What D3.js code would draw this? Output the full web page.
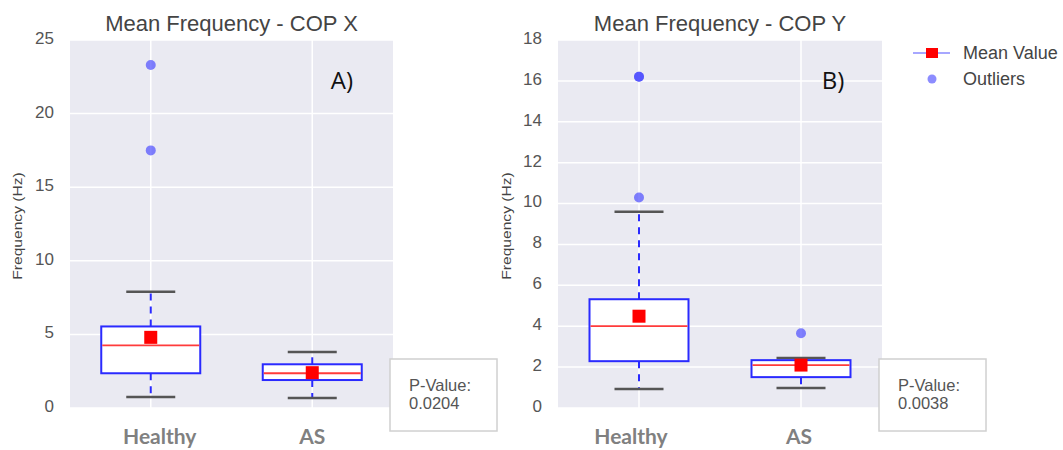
<!DOCTYPE html>
<html>
<head>
<meta charset="utf-8">
<script src="https://cdn.jsdelivr.net/npm/d3@7"></script>
<style>
  body { margin: 0; background: #fff; }
  svg { display: block; }
</style>
</head>
<body>
<svg width="1063" height="450"></svg>
<script>
// categories
var categories = ["Healthy", "AS"];

// COP X box stats (Hz)
var xQ1 = [2.36, 1.90];
var xMedian = [4.26, 2.36];
var xQ3 = [5.54, 2.97];
var xWhiskLo = [0.74, 0.68];
var xWhiskHi = [7.9, 3.8];
var xMean = [4.8, 2.4];
var xOutliers = [[23.3, 17.5], []];
var xTicks = [0, 5, 10, 15, 20, 25];

// COP Y box stats (Hz)
var yQ1 = [2.29, 1.51];
var yMedian = [4.0, 2.1];
var yQ3 = [5.32, 2.34];
var yWhiskLo = [0.93, 0.98];
var yWhiskHi = [9.6, 2.44];
var yMean = [4.49, 2.1];
var yOutliers = [[16.2, 16.2, 10.3], [3.66]];
var yTicks = [0, 2, 4, 6, 8, 10, 12, 14, 16, 18];

var titles = ["Mean Frequency - COP X", "Mean Frequency - COP Y"];
var panelTags = ["A)", "B)"];
var pValues = ["0.0204", "0.0038"];

var svg = d3.select("svg");

function buildStats(q1, med, q3, lo, hi, mean, outl) {
	return categories.map(function(c, i) {
		return { cat: c, q1: q1[i], med: med[i], q3: q3[i], lo: lo[i], hi: hi[i], mean: mean[i], out: outl[i] };
	});
}

var panels = [
	{ left: 70, right: 393, ticks: xTicks, stats: buildStats(xQ1, xMedian, xQ3, xWhiskLo, xWhiskHi, xMean, xOutliers),
	  title: titles[0], tag: panelTags[0], tagX: 342, yLabX: 18, p: pValues[0], pBox: [390, 359], labDx: [9, 0] },
	{ left: 558, right: 882, ticks: yTicks, stats: buildStats(yQ1, yMedian, yQ3, yWhiskLo, yWhiskHi, yMean, yOutliers),
	  title: titles[1], tag: panelTags[1], tagX: 833, yLabX: 507, p: pValues[1], pBox: [879, 359], labDx: [-8, -2] }
];

var plotTop = 40, plotBottom = 408;

panels.forEach(function(p) {
	var g = svg.append("g");
	var y = d3.scaleLinear().domain([0, d3.max(p.ticks)]).range([plotBottom, plotTop]);
	var x = d3.scalePoint().domain(categories).range([p.left, p.right]).padding(0.5);
	var bw = 99, cw = 49;

	// background
	g.append("rect")
		.attr("x", p.left).attr("y", plotTop)
		.attr("width", p.right - p.left).attr("height", plotBottom - plotTop)
		.attr("fill", "#eaeaf2");

	// grid
	g.append("g").selectAll("line")
		.data(p.ticks)
		.enter().append("line")
		.attr("x1", p.left).attr("x2", p.right)
		.attr("y1", function(d) { return y(d); })
		.attr("y2", function(d) { return y(d); })
		.attr("stroke", "#fff").attr("stroke-width", 1.5);
	g.append("g").selectAll("line")
		.data(categories)
		.enter().append("line")
		.attr("x1", function(d) { return x(d); })
		.attr("x2", function(d) { return x(d); })
		.attr("y1", plotTop).attr("y2", plotBottom)
		.attr("stroke", "#fff").attr("stroke-width", 1.5);

	// y axis
	var yAxis = g.append("g")
		.attr("transform", "translate(" + p.left + ",0)")
		.call(d3.axisLeft(y).tickValues(p.ticks).tickSize(0).tickPadding(16));
	yAxis.select(".domain").remove();
	yAxis.selectAll("text")
		.attr("dy", "0.2em")
		.style("font", "17px 'Liberation Sans', Arial, sans-serif")
		.attr("fill", "#555");

	// x labels
	g.append("g").selectAll("text")
		.data(categories)
		.enter().append("text")
		.attr("x", function(d, i) { return x(d) + p.labDx[i]; })
		.attr("y", 444)
		.attr("text-anchor", "middle")
		.style("font", "bold 21px Lato, 'Open Sans', sans-serif")
		.attr("fill", "#808080")
		.text(function(d) { return d; });

	// y label
	g.append("text")
		.attr("transform", "translate(" + (p.yLabX + 4) + ",226) rotate(-90) scale(1.3,1)")
		.attr("text-anchor", "middle")
		.style("font", "12px 'Liberation Sans', Arial, sans-serif")
		.attr("fill", "#444")
		.text("Frequency (Hz)");

	// title
	g.append("text")
		.attr("x", (p.left + p.right) / 2)
		.attr("y", 31)
		.attr("text-anchor", "middle")
		.style("font", "22px 'Liberation Sans', Arial, sans-serif")
		.attr("fill", "#444")
		.text(p.title);

	// panel tag
	g.append("text")
		.attr("x", p.tagX).attr("y", 89)
		.attr("text-anchor", "middle")
		.style("font", "24px 'Open Sans', sans-serif")
		.attr("fill", "#111")
		.text(p.tag);

	var box = g.append("g").selectAll("g")
		.data(p.stats)
		.enter().append("g");

	// whiskers
	box.append("line")
		.attr("x1", function(d) { return x(d.cat); })
		.attr("x2", function(d) { return x(d.cat); })
		.attr("y1", function(d) { return y(d.q3); })
		.attr("y2", function(d) { return y(d.hi); })
		.attr("stroke", "#2a2aff").attr("stroke-width", 2)
		.attr("stroke-dasharray", "7,6");
	box.append("line")
		.attr("x1", function(d) { return x(d.cat); })
		.attr("x2", function(d) { return x(d.cat); })
		.attr("y1", function(d) { return y(d.q1); })
		.attr("y2", function(d) { return y(d.lo); })
		.attr("stroke", "#2a2aff").attr("stroke-width", 2)
		.attr("stroke-dasharray", "7,6");

	// caps
	["hi", "lo"].forEach(function(k) {
		box.append("line")
			.attr("x1", function(d) { return x(d.cat) - cw / 2; })
			.attr("x2", function(d) { return x(d.cat) + cw / 2; })
			.attr("y1", function(d) { return y(d[k]); })
			.attr("y2", function(d) { return y(d[k]); })
			.attr("stroke", "#555").attr("stroke-width", 2.5);
	});

	// box
	box.append("rect")
		.attr("x", function(d) { return x(d.cat) - bw / 2; })
		.attr("y", function(d) { return y(d.q3); })
		.attr("width", bw)
		.attr("height", function(d) { return y(d.q1) - y(d.q3); })
		.attr("fill", "#fff")
		.attr("stroke", "#2a2aff").attr("stroke-width", 2);

	// median
	box.append("line")
		.attr("x1", function(d) { return x(d.cat) - bw / 2 + 1; })
		.attr("x2", function(d) { return x(d.cat) + bw / 2 - 1; })
		.attr("y1", function(d) { return y(d.med); })
		.attr("y2", function(d) { return y(d.med); })
		.attr("stroke", "#ff3b3b").attr("stroke-width", 1.8);

	// mean
	box.append("rect")
		.attr("x", function(d) { return x(d.cat) - 6.5; })
		.attr("y", function(d) { return y(d.mean) - 6.5; })
		.attr("width", 13).attr("height", 13)
		.attr("fill", "#ff0000");

	// outliers
	box.each(function(d) {
		d3.select(this).selectAll("circle")
			.data(d.out)
			.enter().append("circle")
			.attr("cx", x(d.cat))
			.attr("cy", function(v) { return y(v); })
			.attr("r", 5)
			.attr("fill", "#4040ff")
			.attr("fill-opacity", 0.65);
	});

	// p-value box
	var pb = g.append("g").attr("transform", "translate(" + p.pBox[0] + "," + p.pBox[1] + ")");
	pb.append("rect")
		.attr("width", 107).attr("height", 72)
		.attr("fill", "#fff")
		.attr("stroke", "#d0d0d0").attr("stroke-width", 1.5);
	pb.append("text")
		.attr("x", 19).attr("y", 32)
		.style("font", "16.5px 'Liberation Sans', Arial, sans-serif")
		.attr("fill", "#555")
		.text("P-Value:");
	pb.append("text")
		.attr("x", 19).attr("y", 50)
		.style("font", "16.5px 'Liberation Sans', Arial, sans-serif")
		.attr("fill", "#555")
		.text(p.p);
});

// legend
var leg = svg.append("g").attr("transform", "translate(913,53)");
leg.append("line")
	.attr("x1", 0).attr("x2", 37).attr("y1", 0).attr("y2", 0)
	.attr("stroke", "#8a8aff").attr("stroke-width", 1.5);
leg.append("rect")
	.attr("x", 13).attr("y", -5).attr("width", 12).attr("height", 10)
	.attr("fill", "#ff0000");
leg.append("text")
	.attr("x", 50).attr("y", 6)
	.style("font", "18px 'Liberation Sans', Arial, sans-serif")
	.attr("fill", "#444")
	.text("Mean Value");
leg.append("circle")
	.attr("cx", 19).attr("cy", 26).attr("r", 4.5)
	.attr("fill", "#4040ff").attr("fill-opacity", 0.6);
leg.append("text")
	.attr("x", 50).attr("y", 32)
	.style("font", "18px 'Liberation Sans', Arial, sans-serif")
	.attr("fill", "#444")
	.text("Outliers");
</script>
</body>
</html>
